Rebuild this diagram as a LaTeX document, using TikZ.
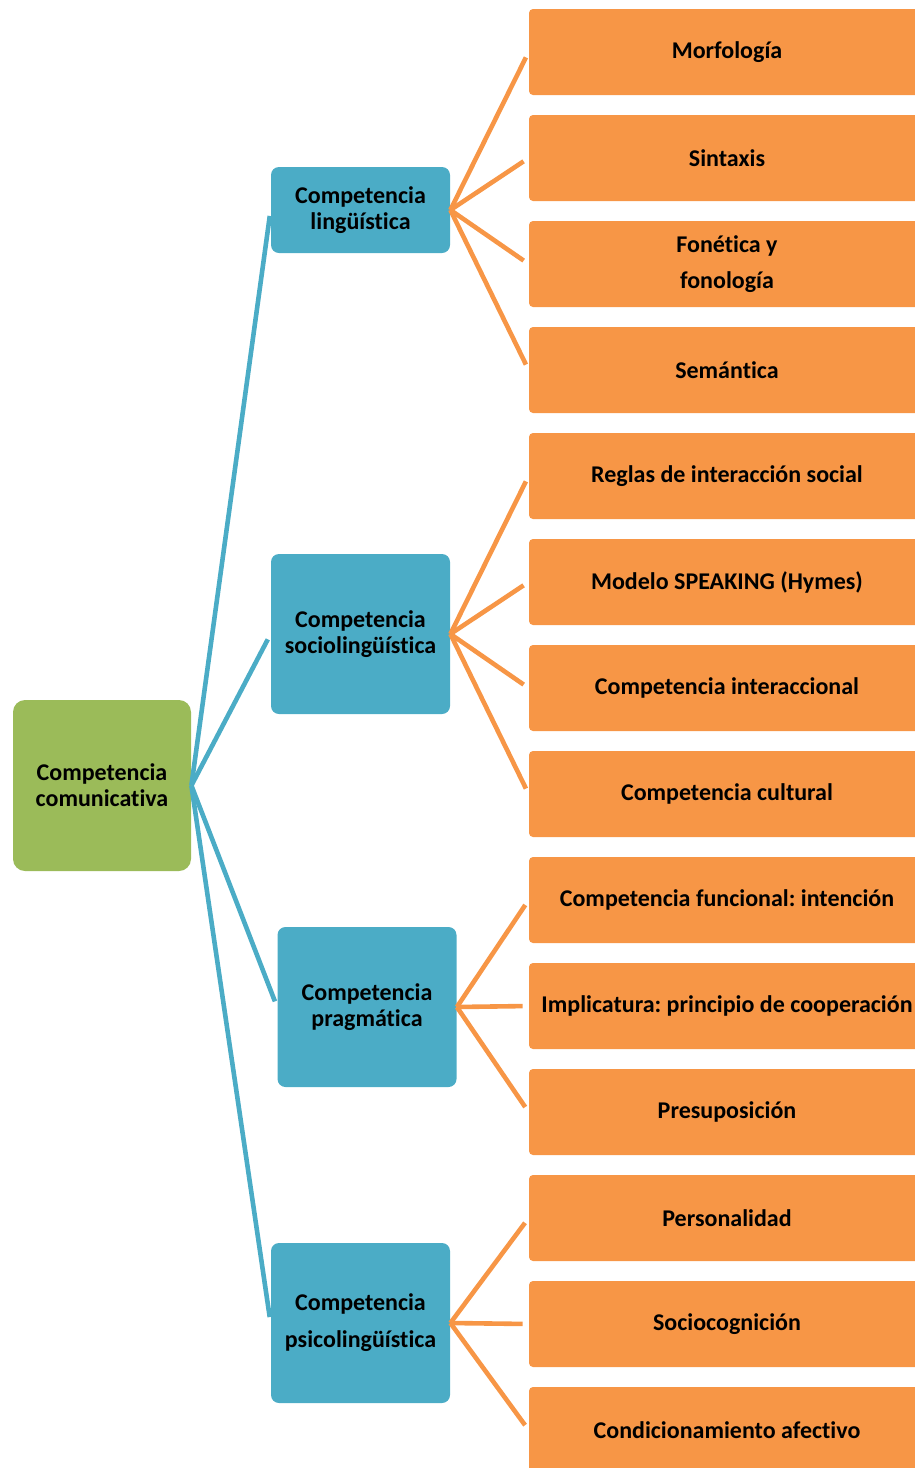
\documentclass[tikz,border=0pt]{standalone}
\usepackage{fontspec}
\setmainfont{Carlito}[Ligatures=NoCommon]
\frenchspacing
\definecolor{leafgreen}{HTML}{9BBB59}
\definecolor{skyblue}{HTML}{4BACC6}
\definecolor{tangerine}{HTML}{F79646}
\tikzset{%
    rootbox/.style={fill=leafgreen, rounded corners=6pt, minimum width=89pt, minimum height=85.5pt, align=center, font=\fontsize{12}{13}\selectfont\bfseries},
    compbox/.style={fill=skyblue, rounded corners=4pt, minimum width=89.5pt, minimum height=80pt, align=center, font=\fontsize{12}{13}\selectfont\bfseries},
    itembox/.style={fill=tangerine, rounded corners=2pt, minimum width=198pt, minimum height=43pt, align=center, font=\fontsize{12}{13}\selectfont\bfseries},
    blueline/.style={draw=skyblue, line width=2.3pt, shorten >=3pt},
    orangeline/.style={draw=tangerine, line width=2.3pt, shorten >=3pt}
}

\begin{document}
\begin{tikzpicture}[x=0.5pt, y=-0.5pt]
    \clip (0,0) rectangle (915,1468);

    \node[rootbox] (root) at (102,785.5) {Competencia\\comunicativa};

    \node[compbox, minimum height=43pt] (ling) at (360.5,210) {Competencia\\lingüística};
    \node[compbox] (socio) at (360.5,634) {Competencia\\sociolingüística};
    \node[compbox] (prag) at (367,1007) {Competencia\\pragmática};
    \node[compbox] (psico) at (360.5,1323) {Competencia\\[5.5pt]psicolingüística};

    \node[itembox] (morf) at (727,52) {Morfología};
    \node[itembox] (sint) at (727,158) {Sintaxis};
    \node[itembox] (fone) at (727,264) {Fonética y\\[5pt]fonología};
    \node[itembox] (sema) at (727,370) {Semántica};
    \node[itembox] (regl) at (727,476) {Reglas de interacción social};
    \node[itembox] (mode) at (727,582) {Modelo SPEAKING (Hymes)};
    \node[itembox] (inte) at (727,688) {Competencia interaccional};
    \node[itembox] (cult) at (727,794) {Competencia cultural};
    \node[itembox] (func) at (727,900) {Competencia funcional: intención};
    \node[itembox] (impl) at (727,1006) {Implicatura: principio de cooperación};
    \node[itembox] (pres) at (727,1112) {Presuposición};
    \node[itembox] (pers) at (727,1218) {Personalidad};
    \node[itembox] (cogn) at (727,1324) {Sociocognición};
    \node[itembox] (cond) at (727,1430) {Condicionamiento afectivo};

    % root to competences
    \draw[blueline] (root.east) -- (ling.west);
    \draw[blueline] (root.east) -- (socio.west);
    \draw[blueline] (root.east) -- (prag.west);
    \draw[blueline] (root.east) -- (psico.west);

    % competences to items
    \draw[orangeline] (ling.east) -- (morf.west);
    \draw[orangeline] (ling.east) -- (sint.west);
    \draw[orangeline] (ling.east) -- (fone.west);
    \draw[orangeline] (ling.east) -- (sema.west);
    \draw[orangeline] (socio.east) -- (regl.west);
    \draw[orangeline] (socio.east) -- (mode.west);
    \draw[orangeline] (socio.east) -- (inte.west);
    \draw[orangeline] (socio.east) -- (cult.west);
    \draw[orangeline] (prag.east) -- (func.west);
    \draw[orangeline] (prag.east) -- (impl.west);
    \draw[orangeline] (prag.east) -- (pres.west);
    \draw[orangeline] (psico.east) -- (pers.west);
    \draw[orangeline] (psico.east) -- (cogn.west);
    \draw[orangeline] (psico.east) -- (cond.west);
\end{tikzpicture}
\end{document}
